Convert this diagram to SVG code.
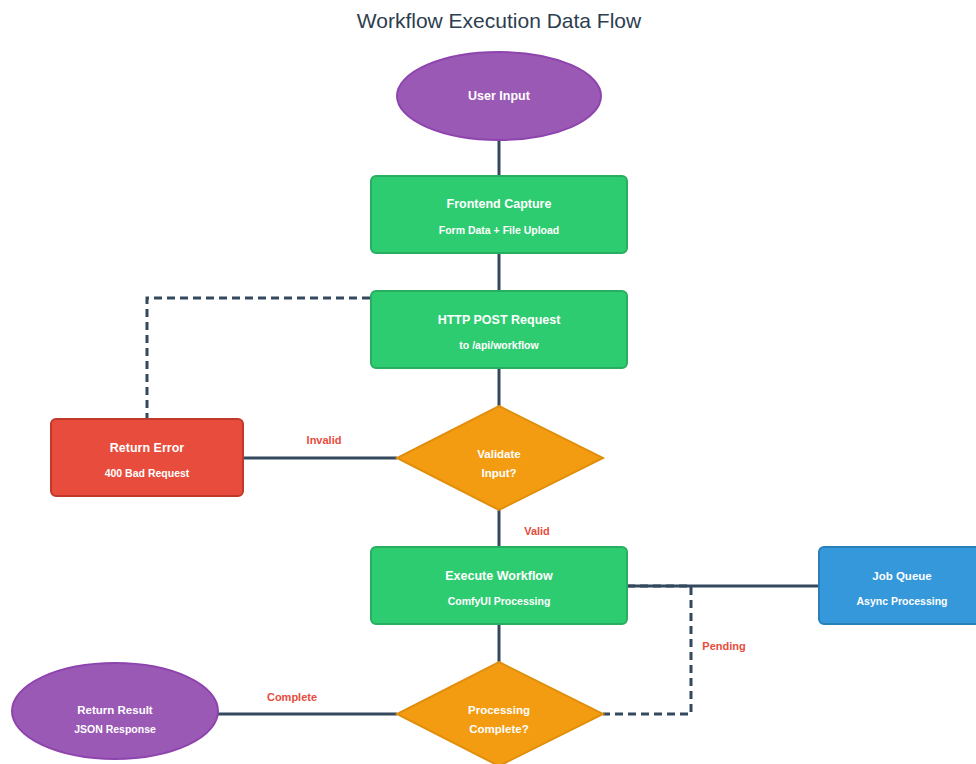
<svg xmlns="http://www.w3.org/2000/svg" width="976" height="764" viewBox="0 0 976 764">
<style>
.t{font-family:"Liberation Sans",Arial,sans-serif;fill:#fff;font-weight:bold;text-anchor:middle}
.m{font-size:12.5px}
.s{font-size:10.5px}
.n{font-size:11.5px}
.lbl{font-family:"Liberation Sans",Arial,sans-serif;fill:#e74c3c;font-weight:bold;font-size:11px;text-anchor:middle}
.ln{stroke:#34495e;stroke-width:3;fill:none}
.d{stroke-dasharray:8 5}
.g{fill:#2ecc71;stroke:#27ae60;stroke-width:2}
.p{fill:#9b59b6;stroke:#8e44ad;stroke-width:2}
.o{fill:#f39c12;stroke:#e08e0b;stroke-width:2}
</style>
<rect width="976" height="764" fill="#fff"/>
<text x="499" y="28" font-family="'Liberation Sans',Arial,sans-serif" font-size="21" fill="#2c3e50" text-anchor="middle">Workflow Execution Data Flow</text>
<g id="connectors">
<line class="ln" x1="499" y1="140" x2="499" y2="176"/>
<line class="ln" x1="499" y1="253" x2="499" y2="291"/>
<line class="ln" x1="499" y1="368" x2="499" y2="406"/>
<polyline class="ln d" points="370,298 147,298 147,419"/>
<line class="ln" x1="243" y1="458" x2="397" y2="458"/>
<text class="lbl" x="324" y="444">Invalid</text>
<line class="ln" x1="499" y1="510" x2="499" y2="547"/>
<text class="lbl" x="537" y="535">Valid</text>
<line class="ln" x1="627" y1="586" x2="819" y2="586"/>
<polyline class="ln d" points="627,586 691,586 691,714 603,714"/>
<text class="lbl" x="724" y="650">Pending</text>
<line class="ln" x1="499" y1="624" x2="499" y2="662"/>
<line class="ln" x1="397" y1="714" x2="218" y2="714"/>
<text class="lbl" x="292" y="701">Complete</text>
</g>
<g id="user-input">
<ellipse class="p" cx="499" cy="96" rx="102" ry="44"/>
<text class="t m" x="499" y="100">User Input</text>
</g>
<g id="frontend-capture">
<rect class="g" x="371" y="176" width="256" height="77" rx="5"/>
<text class="t m" x="499" y="208">Frontend Capture</text>
<text class="t s" x="499" y="234">Form Data + File Upload</text>
</g>
<g id="http-post">
<rect class="g" x="371" y="291" width="256" height="77" rx="5"/>
<text class="t m" x="499" y="324">HTTP POST Request</text>
<text class="t s" x="499" y="349">to /api/workflow</text>
</g>
<g id="return-error">
<rect x="51" y="419" width="192" height="77" rx="5" fill="#e74c3c" stroke="#c0392b" stroke-width="2"/>
<text class="t m" x="147" y="452">Return Error</text>
<text class="t s" x="147" y="477">400 Bad Request</text>
</g>
<g id="validate">
<polygon class="o" points="499,406 603,458 499,510 397,458"/>
<text class="t n" x="499" y="458">Validate</text>
<text class="t n" x="499" y="477">Input?</text>
</g>
<g id="execute-workflow">
<rect class="g" x="371" y="547" width="256" height="77" rx="5"/>
<text class="t m" x="499" y="580">Execute Workflow</text>
<text class="t s" x="499" y="605">ComfyUI Processing</text>
</g>
<g id="job-queue">
<rect x="819" y="547" width="166" height="77" rx="5" fill="#3498db" stroke="#2980b9" stroke-width="2"/>
<text class="t n" x="902" y="580">Job Queue</text>
<text class="t s" x="902" y="605">Async Processing</text>
</g>
<g id="processing-complete">
<polygon class="o" points="499,662 603,714 499,766 397,714"/>
<text class="t n" x="499" y="714">Processing</text>
<text class="t n" x="499" y="733">Complete?</text>
</g>
<g id="return-result">
<ellipse class="p" cx="115" cy="711" rx="103" ry="48"/>
<text class="t n" x="115" y="714">Return Result</text>
<text class="t s" x="115" y="733">JSON Response</text>
</g>
</svg>
